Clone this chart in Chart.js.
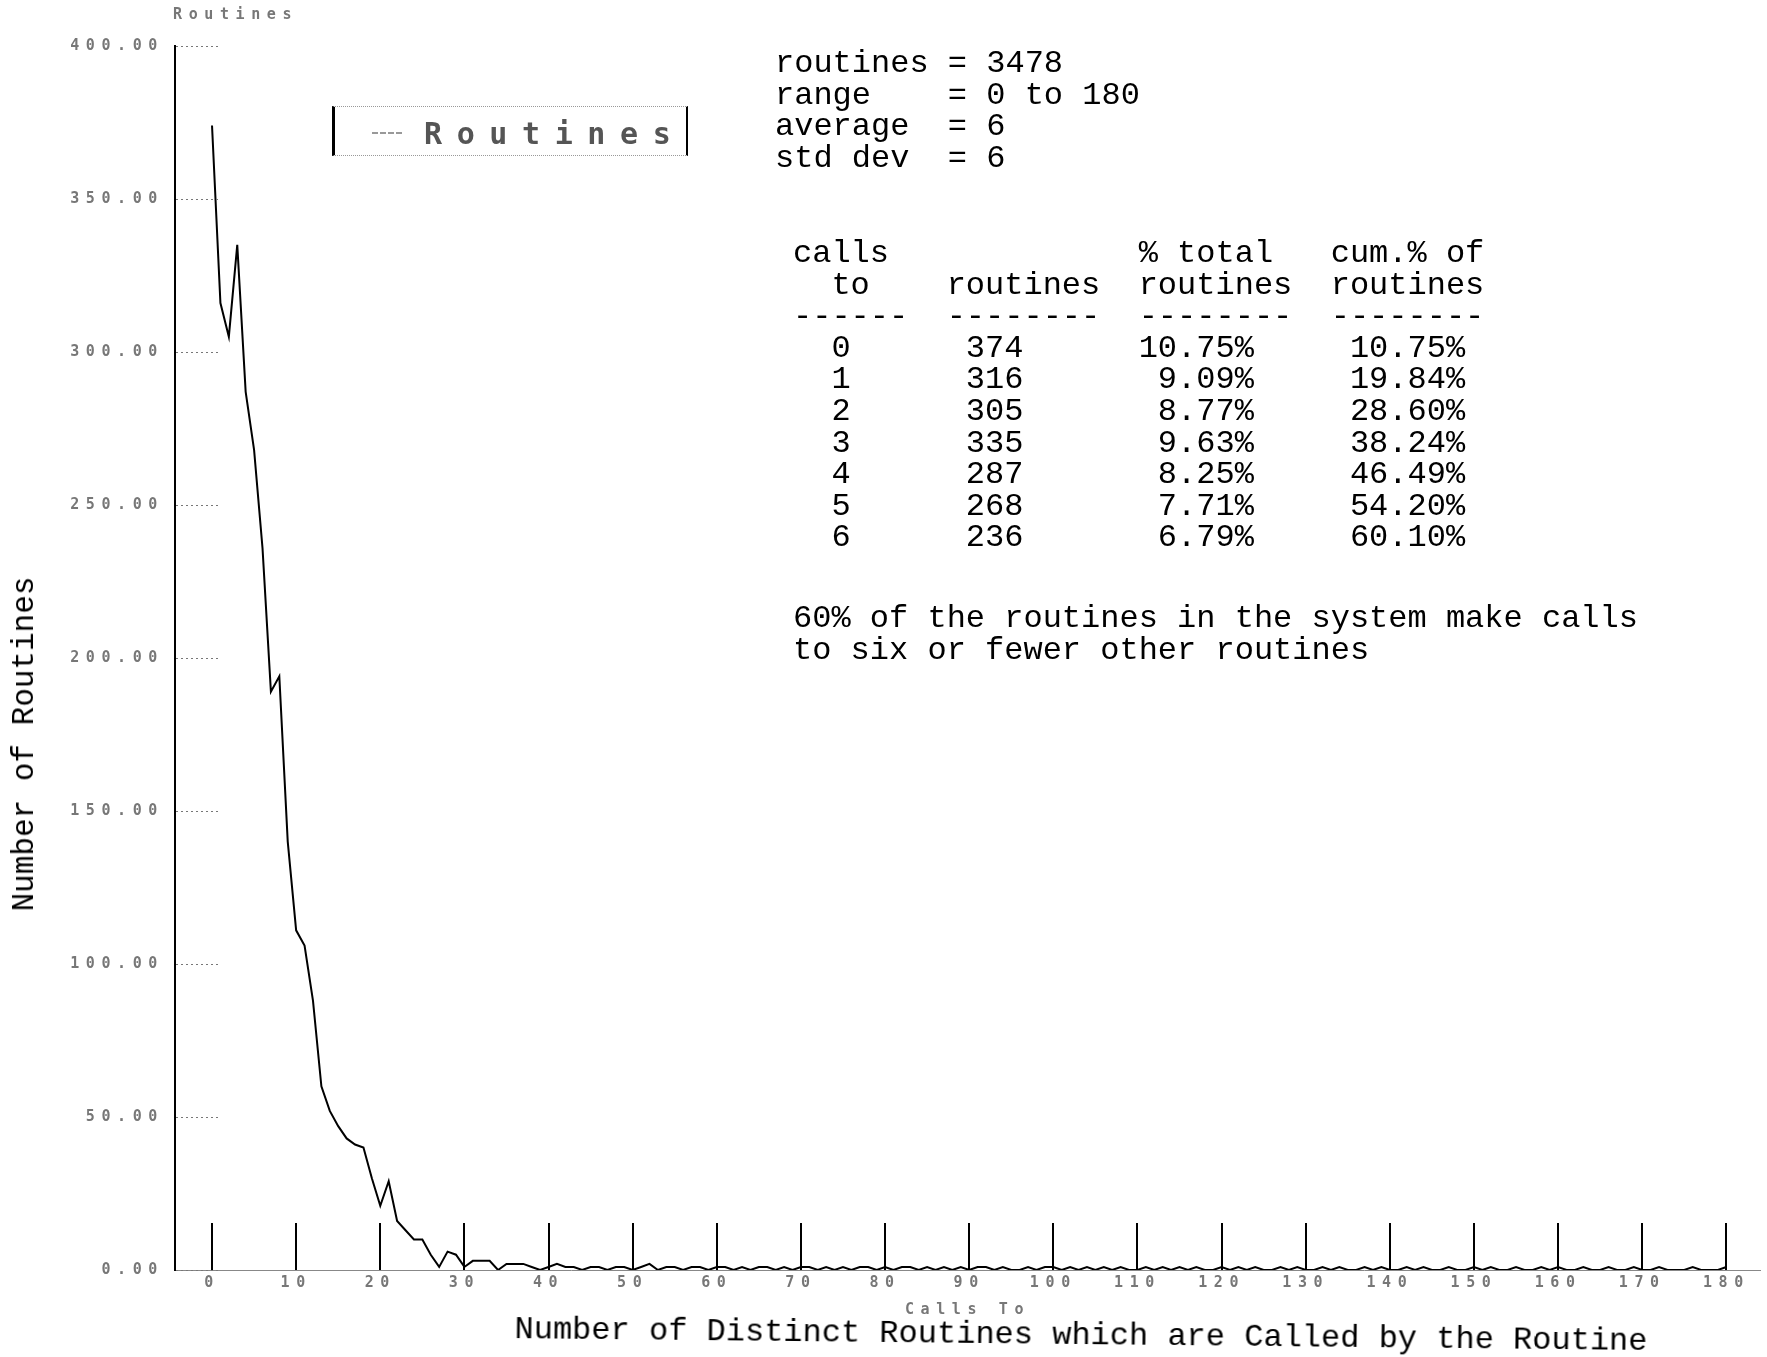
<!DOCTYPE html>
<html>
<head>
<meta charset="utf-8">
<script src="https://cdn.jsdelivr.net/npm/chart.js@4.4.1/dist/chart.umd.min.js"></script>
<style>
html,body{margin:0;padding:0;background:#fff;}
#wrap{position:relative;width:1767px;height:1357px;overflow:hidden;background:#fff;}
canvas{position:absolute;left:0;top:0;}
.mono{position:absolute;margin:0;white-space:pre;font-family:'Liberation Mono','DejaVu Sans Mono',monospace;font-size:32px;line-height:31.6px;color:#000;}
#ytitle{position:absolute;left:25px;top:744px;transform:translate(-50%,-50%) rotate(-90deg);white-space:pre;font-family:'Liberation Mono',monospace;font-size:31px;line-height:36px;color:#000;}
#xtitle{position:absolute;left:1081px;top:1336px;transform:translate(-50%,-50%) rotate(0.6deg);white-space:pre;font-family:'Liberation Mono',monospace;font-size:32px;line-height:36px;color:#000;}
#unit{position:absolute;left:173px;top:6px;font-family:'DejaVu Sans Mono',monospace;font-weight:bold;font-size:15px;line-height:17px;letter-spacing:6.6px;color:#777;white-space:pre;}
#legbox{position:absolute;left:332px;top:106px;width:356px;height:50px;box-sizing:border-box;border-left:3px solid #000;border-right:2px solid #000;border-top:1px dotted #999;border-bottom:1px dotted #999;}
#legline{position:absolute;left:372px;top:132px;width:30px;height:0;border-top:2px dashed #999;}
#legtext{position:absolute;left:424px;top:116px;font-family:'DejaVu Sans Mono',monospace;font-weight:bold;font-size:30px;line-height:36px;letter-spacing:14.6px;color:#555;white-space:pre;}
</style>
</head>
<body>
<div id="wrap">
<canvas id="c" width="1767" height="1357"></canvas>
<div id="unit"></div>
<div id="legbox"></div>
<div id="legline"></div>
<div id="legtext"></div>
<pre class="mono" id="stats" style="left:775px;top:48px;"></pre>
<pre class="mono" id="table" style="left:793px;top:238px;"></pre>
<pre class="mono" id="note" style="left:793px;top:603px;"></pre>
<div id="ytitle"></div>
<div id="xtitle"></div>
</div>
<script>
// ---- data ----
const seriesLabel = 'Routines';
// number of routines calling exactly x distinct routines, x = 0..180
const routineCounts = [
  374,316,305,335,287,268,236,189,194,140,
  111,106,88,60,52,47,43,41,40,30,
  21,29,16,13,10,10,5,1,6,5,
  1,3,3,3,0,2,2,2,
  1,0,1,2,1,1,0,1,1,0,
  1,1,0,1,2,0,1,1,0,1,
  1,0,1,1,0,1,0,1,1,0,
  1,0,1,1,0,1,0,1,0,1,
  1,0,1,0,1,1,0,1,0,1,
  0,1,0,1,1,0,1,0,0,1,
  0,1,1,0,1,0,1,0,1,0,
  1,0,0,1,0,1,0,1,0,1,
  0,0,1,0,1,0,1,0,0,1,
  0,1,0,0,1,0,1,0,0,1,
  0,1,0,0,1,0,1,0,0,1,
  0,0,1,0,1,0,0,1,0,0,
  1,0,1,0,0,1,0,0,1,0,
  0,1,0,0,1,0,0,0,1,0,
  0,0,1
];
const xTickValues = [0,10,20,30,40,50,60,70,80,90,100,110,120,130,140,150,160,170,180];
const xTickLabels = ['0','10','20','30','40','50','60','70','80','90','100','110','120','130','140','150','160','170','180'];
const yTickValues = [0,50,100,150,200,250,300,350,400];
const yTickLabels = ['0.00','50.00','100.00','150.00','200.00','250.00','300.00','350.00','400.00'];
const xAxisSmallTitle = 'Calls To';
const yAxisSmallTitle = 'Routines';
const xAxisTitle = 'Number of Distinct Routines which are Called by the Routine';
const yAxisTitle = 'Number of Routines';

const statsLines = ['routines = 3478', 'range    = 0 to 180', 'average  = 6', 'std dev  = 6'];
const tableCalls = ['0','1','2','3','4','5','6'];
const tableRoutines = ['374','316','305','335','287','268','236'];
const tablePct = ['10.75%','9.09%','8.77%','9.63%','8.25%','7.71%','6.79%'];
const tableCum = ['10.75%','19.84%','28.60%','38.24%','46.49%','54.20%','60.10%'];
const tableHeader = [
  'calls             % total   cum.% of',
  '  to    routines  routines  routines',
  '------  --------  --------  --------'
];
const noteLines = ['60% of the routines in the system make calls', 'to six or fewer other routines'];

// ---- text blocks ----
document.getElementById('unit').textContent = yAxisSmallTitle;
document.getElementById('legtext').textContent = seriesLabel;
document.getElementById('stats').textContent = statsLines.join('\n');
const rows = tableCalls.map((c, i) =>
  c.padStart(3) + ' '.repeat(6) + tableRoutines[i].padStart(3) + ' '.repeat(6) +
  tablePct[i].padStart(6) + ' '.repeat(5) + tableCum[i].padStart(6));
document.getElementById('table').textContent = tableHeader.concat(rows).join('\n');
document.getElementById('note').textContent = noteLines.join('\n');
document.getElementById('ytitle').textContent = yAxisTitle;
document.getElementById('xtitle').textContent = xAxisTitle;

// ---- chart ----
const decor = {
  id: 'decor',
  beforeDraw(chart) { chart.ctx.letterSpacing = '6.6px'; },
  afterDraw(chart) {
    const {ctx, chartArea, scales: {x, y}} = chart;
    ctx.save();
    ctx.letterSpacing = '0px';
    const y0 = y.getPixelForValue(0);
    ctx.strokeStyle = '#000';
    ctx.lineWidth = 2;
    xTickValues.forEach(v => {
      const px = Math.round(x.getPixelForValue(v));
      ctx.beginPath(); ctx.moveTo(px, y0); ctx.lineTo(px, y0 - 47); ctx.stroke();
    });
    ctx.strokeStyle = '#777';
    ctx.lineWidth = 1;
    ctx.setLineDash([2, 3]);
    yTickValues.forEach(v => {
      const py = Math.round(y.getPixelForValue(v)) + 0.5;
      ctx.beginPath(); ctx.moveTo(chartArea.left + 1, py); ctx.lineTo(chartArea.left + 43, py); ctx.stroke();
    });
    ctx.restore();
    ctx.letterSpacing = '0px';
  }
};

const tickFont = {family: 'DejaVu Sans Mono', size: 15, weight: 'bold'};
new Chart(document.getElementById('c'), {
  type: 'line',
  data: {
    datasets: [{
      label: seriesLabel,
      data: routineCounts.map((v, i) => ({x: i, y: v})),
      borderColor: '#000',
      borderWidth: 2,
      pointRadius: 0,
      tension: 0,
      fill: false
    }]
  },
  options: {
    responsive: false,
    animation: false,
    devicePixelRatio: 1,
    layout: {padding: {top: 46, right: 7, bottom: 0, left: 0}},
    plugins: {legend: {display: false}, tooltip: {enabled: false}},
    scales: {
      x: {
        type: 'linear', min: -4.4, max: 184,
        afterFit(s) { s.height = 87; },
        afterBuildTicks(s) { s.ticks = xTickValues.map(v => ({value: v})); },
        grid: {display: false, drawTicks: false},
        border: {display: true, color: '#888', width: 1, dash: [2, 2]},
        ticks: {autoSkip: false, maxRotation: 0, padding: 4, color: '#777', font: tickFont,
                callback: (v, i) => xTickLabels[i]},
        title: {display: true, text: xAxisSmallTitle, color: '#777', font: tickFont, padding: {top: 0, bottom: 38}}
      },
      y: {
        type: 'linear', min: 0, max: 400,
        afterFit(s) { s.width = 175; },
        afterBuildTicks(s) { s.ticks = yTickValues.map(v => ({value: v})); },
        grid: {display: false, drawTicks: false},
        border: {display: true, color: '#000', width: 2},
        ticks: {padding: 11, color: '#777', font: tickFont, callback: (v, i) => yTickLabels[i]}
      }
    }
  },
  plugins: [decor]
});
</script>
</body>
</html>
